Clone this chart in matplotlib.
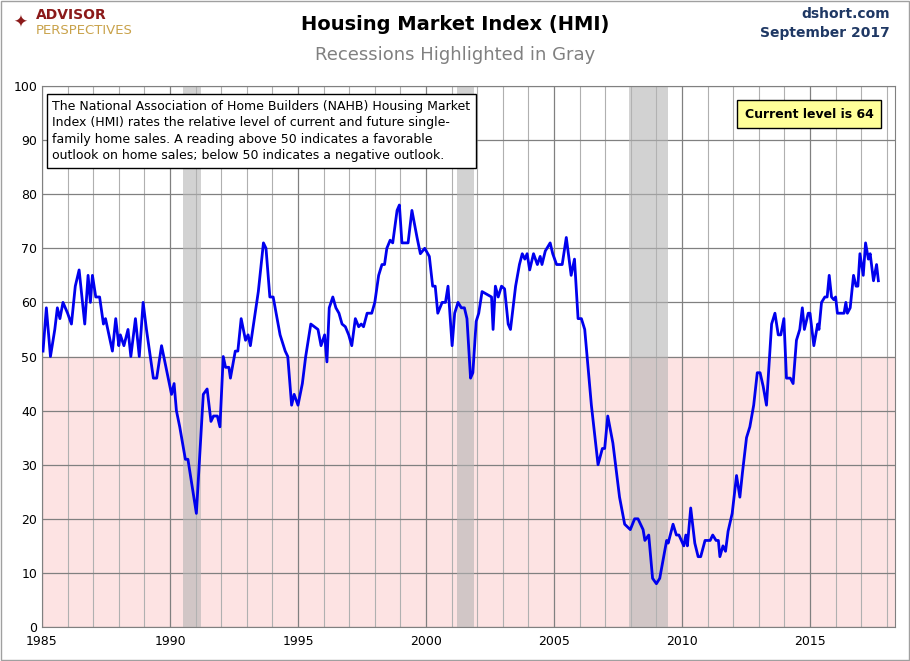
import matplotlib
matplotlib.use("Agg")
import matplotlib.pyplot as plt
from matplotlib.patches import Rectangle

years = [1985.04,1985.17,1985.33,1985.5,1985.6,1985.7,1985.82,1986.0,1986.15,1986.3,1986.45,1986.67,1986.8,1986.89,1986.97,1987.1,
 1987.25,1987.4,1987.48,1987.75,1987.88,1988.0,1988.06,1988.2,1988.36,1988.47,1988.65,1988.8,1988.95,1989.08,1989.35,1989.48,
 1989.67,1989.8,1990.06,1990.16,1990.25,1990.38,1990.6,1990.7,1991.03,1991.3,1991.45,1991.6,1991.7,1991.85,1991.95,1992.08,
 1992.17,1992.3,1992.36,1992.55,1992.65,1992.78,1992.95,1993.05,1993.14,1993.45,1993.65,1993.75,1993.9,1994.03,1994.3,1994.5,
 1994.6,1994.75,1994.85,1995.0,1995.17,1995.3,1995.5,
 1995.78,1995.9,1996.04,1996.13,1996.22,1996.36,1996.48,1996.6,1996.72,1996.85,1996.98,1997.1,1997.24,1997.37,1997.47,1997.56,
 1997.7,1997.88,1998.0,1998.15,1998.28,1998.38,1998.47,1998.6,1998.7,1998.87,1998.96,1999.06,1999.3,1999.45,1999.65,1999.78,
 1999.95,2000.13,2000.26,2000.36,2000.46,2000.63,2000.76,2000.86,2001.02,2001.12,2001.25,2001.38,2001.5,2001.6,2001.74,2001.83,
 2001.96,2002.06,2002.19,2002.56,2002.62,2002.71,2002.82,2002.95,2003.07,2003.21,2003.3,2003.5,2003.65,2003.76,2003.86,2003.95,
 2004.05,2004.2,2004.35,2004.46,2004.53,2004.66,2004.85,2004.95,2005.1,
 2005.32,2005.48,2005.67,2005.8,2005.94,2006.07,2006.2,2006.46,2006.72,2006.89,2006.98,2007.1,2007.3,2007.56,2007.76,2007.98,
 2008.15,2008.28,2008.48,2008.55,2008.7,2008.85,2009.0,2009.13,2009.4,2009.46,2009.65,2009.78,2009.88,2010.07,2010.15,2010.21,
 2010.34,2010.5,2010.63,2010.73,2010.9,2011.1,2011.2,2011.33,2011.42,2011.48,2011.6,2011.7,2011.8,2011.96,2012.13,2012.26,
 2012.36,2012.52,2012.65,2012.8,2012.94,2013.05,2013.17,2013.3,2013.5,2013.63,2013.76,2013.86,2013.98,2014.08,2014.23,2014.34,
 2014.47,2014.6,2014.7,2014.78,2014.93,2015.0,2015.15,2015.3,2015.35,2015.45,2015.58,2015.67,2015.75,2015.84,2015.93,2016.0,
 2016.07,2016.33,2016.4,2016.46,2016.57,2016.7,2016.8,2016.87,2016.95,2017.08,2017.17,2017.28,2017.35,2017.48,2017.6,2017.67]
hmi = [51,59,50,55,59,57,60,58,56,63,66,56,65,60,65,61,
 61,56,57,51,57,52,54,52,55,50,57,50,60,55,46,46,
 52,49,43,45,40,37,31,31,21,43,44,38,39,39,37,50,
 48,48,46,51,51,57,53,54,52,62,71,70,61,61,54,51,
 50,41,43,41,45,50,56,
 55,52,54,49,59,61,59,58,56,55.5,54,52,57,55.5,56,55.5,
 58,58,60,65,67,67,70,71.5,71,77,78,71,71,77,72,
 69,70,68.5,63,63,58,60,60,63,52,58,60,59,59,57,46,
 47,56.5,58,62,61,55,63,61,63,62.5,56,55,63,67,69,68,69,
 66,69,67,68.5,67,69.5,71,69,67,
 67,72,65,68,57,57,55,41,30,33,33,39,34,24,19,18,
 20,20,18,16,17,9,8,9,16,15.5,19,17,17,15,17,15,
 22,15.5,13,13,16,16,17,16,16,13,15,14,17.7,21,28,24,
 28.5,35,37,41,47,47,44.5,41,56,58,54,54,57,46,46,45,
 53,55,59,55,58,58,52,56,55,60,61,61,65,61,60.5,61,
 58,58,60,58,59,65,63,63,69,65,71,68,69,64,67,64]
recessions = [(1990.5, 1991.22), (2001.2, 2001.88), (2007.92, 2009.47)]
xticks = [1985, 1990, 1995, 2000, 2005, 2010, 2015]

fig = plt.figure(figsize=(9.10, 6.61), dpi=100)
ax = fig.add_axes([42/910, 34/661, 853/910, 541/661])
ax.set_xlim(1985, 2018.32)
ax.set_ylim(0, 100)
ax.axhspan(0, 50, color="#fde3e3", zorder=0)
for a, b in recessions:
    ax.axvspan(a, b, color="#b4b4b4", alpha=0.6, zorder=1, lw=0)
ax.set_xticks(xticks)
ax.set_xticks(range(1985, 2019), minor=True)
ax.set_yticks(range(0, 101, 10))
ax.grid(True, which="major", color="#808080", lw=0.9, zorder=0.5)
ax.grid(True, which="minor", axis="x", color="#b0b0b0", lw=0.8, zorder=0.5)
ax.set_axisbelow(True)
ax.tick_params(which="both", length=0, labelsize=9)
ax.tick_params(axis="x", pad=6)
for s in ax.spines.values():
    s.set_color("#808080")
ax.plot(years, hmi, color="#0000ee", lw=2, zorder=3)

fig.text(0.5, 1-25/661, "Housing Market Index (HMI)", ha="center", va="center", fontsize=14, fontweight="bold")
fig.text(0.5, 1-55/661, "Recessions Highlighted in Gray", ha="center", va="center", fontsize=13, color="#808080")
fig.text(890/910, 1-14/661, "dshort.com", ha="right", va="center", fontsize=10, fontweight="bold", color="#1f3864")
fig.text(890/910, 1-33/661, "September 2017", ha="right", va="center", fontsize=10, fontweight="bold", color="#1f3864")
fig.text(36/910, 1-15/661, "ADVISOR", ha="left", va="center", fontsize=10, fontweight="bold", color="#8b1a1a")
fig.text(36/910, 1-30/661, "PERSPECTIVES", ha="left", va="center", fontsize=9.5, color="#c9a24a")
fig.text(20/910, 1-23/661, "✦", ha="center", va="center", fontsize=12, color="#8b1a1a")

ax.text(0.012, 0.975, "The National Association of Home Builders (NAHB) Housing Market\n"
        "Index (HMI) rates the relative level of current and future single-\n"
        "family home sales. A reading above 50 indicates a favorable\n"
        "outlook on home sales; below 50 indicates a negative outlook.",
        transform=ax.transAxes, ha="left", va="top", fontsize=9, zorder=5, linespacing=1.35,
        bbox=dict(boxstyle="square,pad=0.45", fc="white", ec="black", lw=1))
ax.text(0.975, 0.96, "Current level is 64", transform=ax.transAxes, ha="right", va="top",
        fontsize=9, fontweight="bold", zorder=5,
        bbox=dict(boxstyle="square,pad=0.6", fc="#ffff99", ec="black", lw=1))
fig.patches.append(Rectangle((0.001, 0.001), 0.998, 0.998, transform=fig.transFigure,
                             fill=False, ec="#a0a0a0", lw=1))
fig.savefig("out.png", dpi=100)
